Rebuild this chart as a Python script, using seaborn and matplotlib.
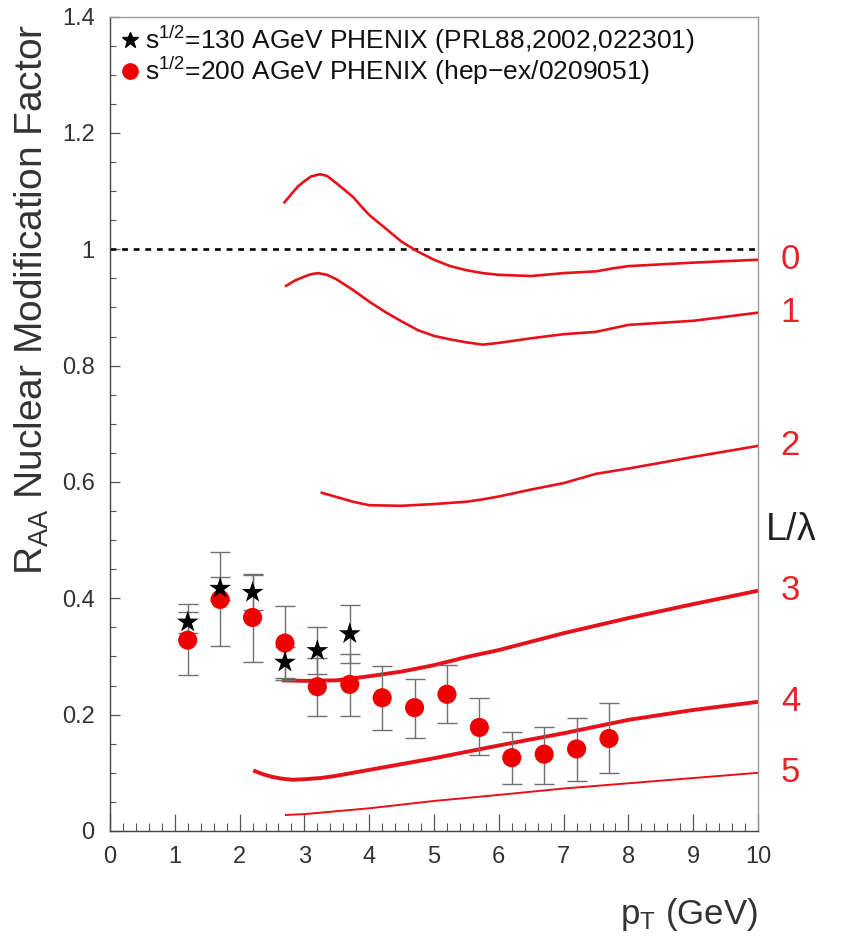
import numpy as np
import pandas as pd
import matplotlib
matplotlib.use("Agg")
import matplotlib.pyplot as plt
import seaborn as sns
from matplotlib.ticker import MultipleLocator

# ---- data: sqrt(s)=200 AGeV PHENIX (red circles) ----
pt_200 = [1.2, 1.7, 2.2, 2.7, 3.2, 3.7, 4.2, 4.7, 5.2, 5.7, 6.2, 6.7, 7.2, 7.7]
raa_200 = [0.328, 0.398, 0.367, 0.323, 0.248, 0.252, 0.229, 0.212, 0.235, 0.178, 0.126, 0.132, 0.141, 0.159]
lo_200 = [0.268, 0.318, 0.291, 0.260, 0.198, 0.198, 0.174, 0.160, 0.186, 0.131, 0.080, 0.080, 0.086, 0.099]
hi_200 = [0.390, 0.480, 0.442, 0.386, 0.298, 0.305, 0.284, 0.262, 0.285, 0.229, 0.170, 0.178, 0.194, 0.220]

# ---- data: sqrt(s)=130 AGeV PHENIX (black stars) ----
pt_130 = [1.2, 1.7, 2.2, 2.7, 3.2, 3.7]
raa_130 = [0.359, 0.417, 0.410, 0.290, 0.310, 0.339]
err_130 = [0.018, 0.020, 0.030, 0.027, 0.040, 0.050]

# ---- theory curves, labelled by L/lambda ----
c0_x = [2.68, 2.8, 2.9, 3.0, 3.1, 3.24, 3.35, 3.5, 3.62, 3.75, 3.9, 4.0, 4.25, 4.5, 4.75, 5.0, 5.25, 5.5, 5.75, 6.0, 6.5, 7.0, 7.5, 7.75, 8.0, 9.0, 10.0]
c0_y = [1.079, 1.095, 1.108, 1.117, 1.125, 1.129, 1.126, 1.113, 1.102, 1.090, 1.071, 1.059, 1.036, 1.013, 0.996, 0.982, 0.971, 0.964, 0.959, 0.956, 0.954, 0.959, 0.962, 0.967, 0.971, 0.977, 0.982]
c1_x = [2.7, 2.85, 3.0, 3.1, 3.21, 3.35, 3.5, 3.75, 4.0, 4.25, 4.5, 4.75, 5.0, 5.25, 5.5, 5.75, 6.0, 6.5, 7.0, 7.5, 7.75, 8.0, 9.0, 10.0]
c1_y = [0.936, 0.946, 0.953, 0.957, 0.959, 0.956, 0.948, 0.930, 0.910, 0.892, 0.876, 0.861, 0.851, 0.845, 0.840, 0.836, 0.839, 0.847, 0.854, 0.858, 0.864, 0.870, 0.877, 0.891]
c2_x = [3.25, 3.5, 3.75, 4.0, 4.5, 5.0, 5.5, 5.75, 6.0, 6.5, 7.0, 7.5, 8.0, 9.0, 10.0]
c2_y = [0.582, 0.574, 0.566, 0.560, 0.559, 0.562, 0.566, 0.570, 0.575, 0.587, 0.598, 0.614, 0.623, 0.643, 0.662]
c3_x = [2.65, 3.0, 3.5, 4.0, 4.5, 5.0, 5.5, 6.0, 7.0, 8.0, 9.0, 10.0]
c3_y = [0.259, 0.258, 0.259, 0.266, 0.274, 0.285, 0.299, 0.311, 0.340, 0.366, 0.390, 0.413]
c4_x = [2.21, 2.35, 2.5, 2.65, 2.82, 3.0, 3.25, 3.5, 4.0, 5.0, 6.0, 7.0, 8.0, 9.0, 10.0]
c4_y = [0.104, 0.098, 0.093, 0.090, 0.088, 0.089, 0.091, 0.095, 0.105, 0.125, 0.147, 0.168, 0.191, 0.208, 0.222]
c5_x = [2.7, 3.0, 4.0, 5.0, 6.0, 7.0, 8.0, 9.0, 10.0]
c5_y = [0.0275, 0.029, 0.039, 0.0516, 0.062, 0.073, 0.082, 0.091, 0.100]
curve_labels = ["0", "1", "2", "3", "4", "5"]

x_ticks = [0, 1, 2, 3, 4, 5, 6, 7, 8, 9, 10]
y_ticks = [0, 0.2, 0.4, 0.6, 0.8, 1.0, 1.2, 1.4]
y_tick_labels = ["0", "0.2", "0.4", "0.6", "0.8", "1", "1.2", "1.4"]

# ---- style ----
sns.set_theme(style="white")
plt.rcParams["font.family"] = ["Liberation Sans", "DejaVu Sans"]
plt.rcParams["mathtext.fontset"] = "custom"
plt.rcParams["mathtext.rm"] = "Liberation Sans"
plt.rcParams["mathtext.it"] = "Liberation Sans"

RED = "#e8101a"
fig = plt.figure(figsize=(8.5, 9.36), dpi=100)
ax = fig.add_axes([0.1294, 0.1122, 0.7624, 0.8701])

curves = [(c0_x, c0_y, 1.9), (c1_x, c1_y, 1.9), (c2_x, c2_y, 1.9),
          (c3_x, c3_y, 2.8), (c4_x, c4_y, 2.8), (c5_x, c5_y, 1.4)]
for i, (cx, cy, lw) in enumerate(curves):
    df = pd.DataFrame({"pt": cx, "raa": cy, "curve": curve_labels[i]})
    sns.lineplot(data=df, x="pt", y="raa", ax=ax, color=RED, lw=lw,
                 sort=False, estimator=None, legend=False, zorder=3)
for ln in ax.get_lines():
    ln.set_solid_joinstyle("round")
    ln.set_solid_capstyle("butt")

# dashed unity line
ax.axhline(1.0, xmin=0, xmax=1, color="black", lw=1.9, dashes=(2.2, 2.2), zorder=2)

# error bars
raa200 = np.array(raa_200)
ax.errorbar(pt_200, raa_200, yerr=[raa200 - np.array(lo_200), np.array(hi_200) - raa200],
            fmt="none", ecolor="#707070", elinewidth=1.0, capsize=7, capthick=1.0, zorder=4)
ax.errorbar(pt_130, raa_130, yerr=err_130, fmt="none", ecolor="#707070",
            elinewidth=1.0, capsize=7, capthick=1.0, zorder=4)

d200 = pd.DataFrame({"pt": pt_200, "raa": raa_200})
d130 = pd.DataFrame({"pt": pt_130, "raa": raa_130})
sns.scatterplot(data=d200, x="pt", y="raa", ax=ax, marker="o", s=190,
                color="#ee0000", edgecolor="none", zorder=5, legend=False)
sns.scatterplot(data=d130, x="pt", y="raa", ax=ax, marker="*", s=270,
                color="black", edgecolor="none", zorder=6, legend=False)

# curve labels on right
ends = [c0_y[-1], c1_y[-1], c2_y[-1], c3_y[-1], c4_y[-1], c5_y[-1]]
for lab, yv in zip(curve_labels, ends):
    ax.text(10.5, yv, lab, color="#e8232a", fontsize=25, ha="center", va="center",
            clip_on=False)
ax.text(10.5, 0.517, r"L/$\lambda$", color="#222222", fontsize=27, ha="center",
        va="center", clip_on=False)

# legend (manual)
ax.plot([0.031], [0.971], marker="*", ms=12, color="black", ls="none",
        transform=ax.transAxes, clip_on=False)
ax.text(0.054, 0.971, r"s$^{1/2}$=130 AGeV PHENIX (PRL88,2002,022301)",
        transform=ax.transAxes, fontsize=19, va="center", ha="left", color="#111111")
ax.plot([0.031], [0.933], marker="o", ms=11, color="#ee0000", ls="none",
        transform=ax.transAxes, clip_on=False)
ax.text(0.054, 0.933, r"s$^{1/2}$=200 AGeV PHENIX (hep$-$ex/0209051)",
        transform=ax.transAxes, fontsize=19, va="center", ha="left", color="#111111")

# axes
ax.set_xlim(0, 10)
ax.set_ylim(0, 1.4)
ax.set_xticks(x_ticks)
ax.set_xticklabels([str(t) for t in x_ticks])
ax.set_yticks(y_ticks)
ax.set_yticklabels(y_tick_labels)
ax.xaxis.set_minor_locator(MultipleLocator(0.2))
ax.yaxis.set_minor_locator(MultipleLocator(0.05))
ax.tick_params(axis="both", which="both", direction="in", top=False, right=False,
               bottom=True, left=True, colors="#555555", labelcolor="#333333",
               labelsize=17)
ax.tick_params(axis="x", which="major", length=12, width=0.9, pad=11)
ax.tick_params(axis="x", which="minor", length=6, width=0.8)
ax.tick_params(axis="y", which="major", length=7, width=0.9, pad=11)
ax.tick_params(axis="y", which="minor", length=4.5, width=0.8)
for s in ["left", "bottom"]:
    ax.spines[s].set_color("#444444")
    ax.spines[s].set_linewidth(1.0)
for s in ["top", "right"]:
    ax.spines[s].set_color("#999999")
    ax.spines[s].set_linewidth(1.0)
ax.grid(False)

ax.set_xlabel("")
ax.set_ylabel("")
fig.text(0.038, 0.68, r"R$_{\mathregular{AA}}$ Nuclear Modification Factor", rotation=90,
         fontsize=28, ha="center", va="center", color="#333333")
fig.text(0.891, 0.013, r"p$_{\mathregular{T}}$ (GeV)", fontsize=25, ha="right",
         va="baseline", color="#333333")

fig.savefig("out.png", dpi=100)
